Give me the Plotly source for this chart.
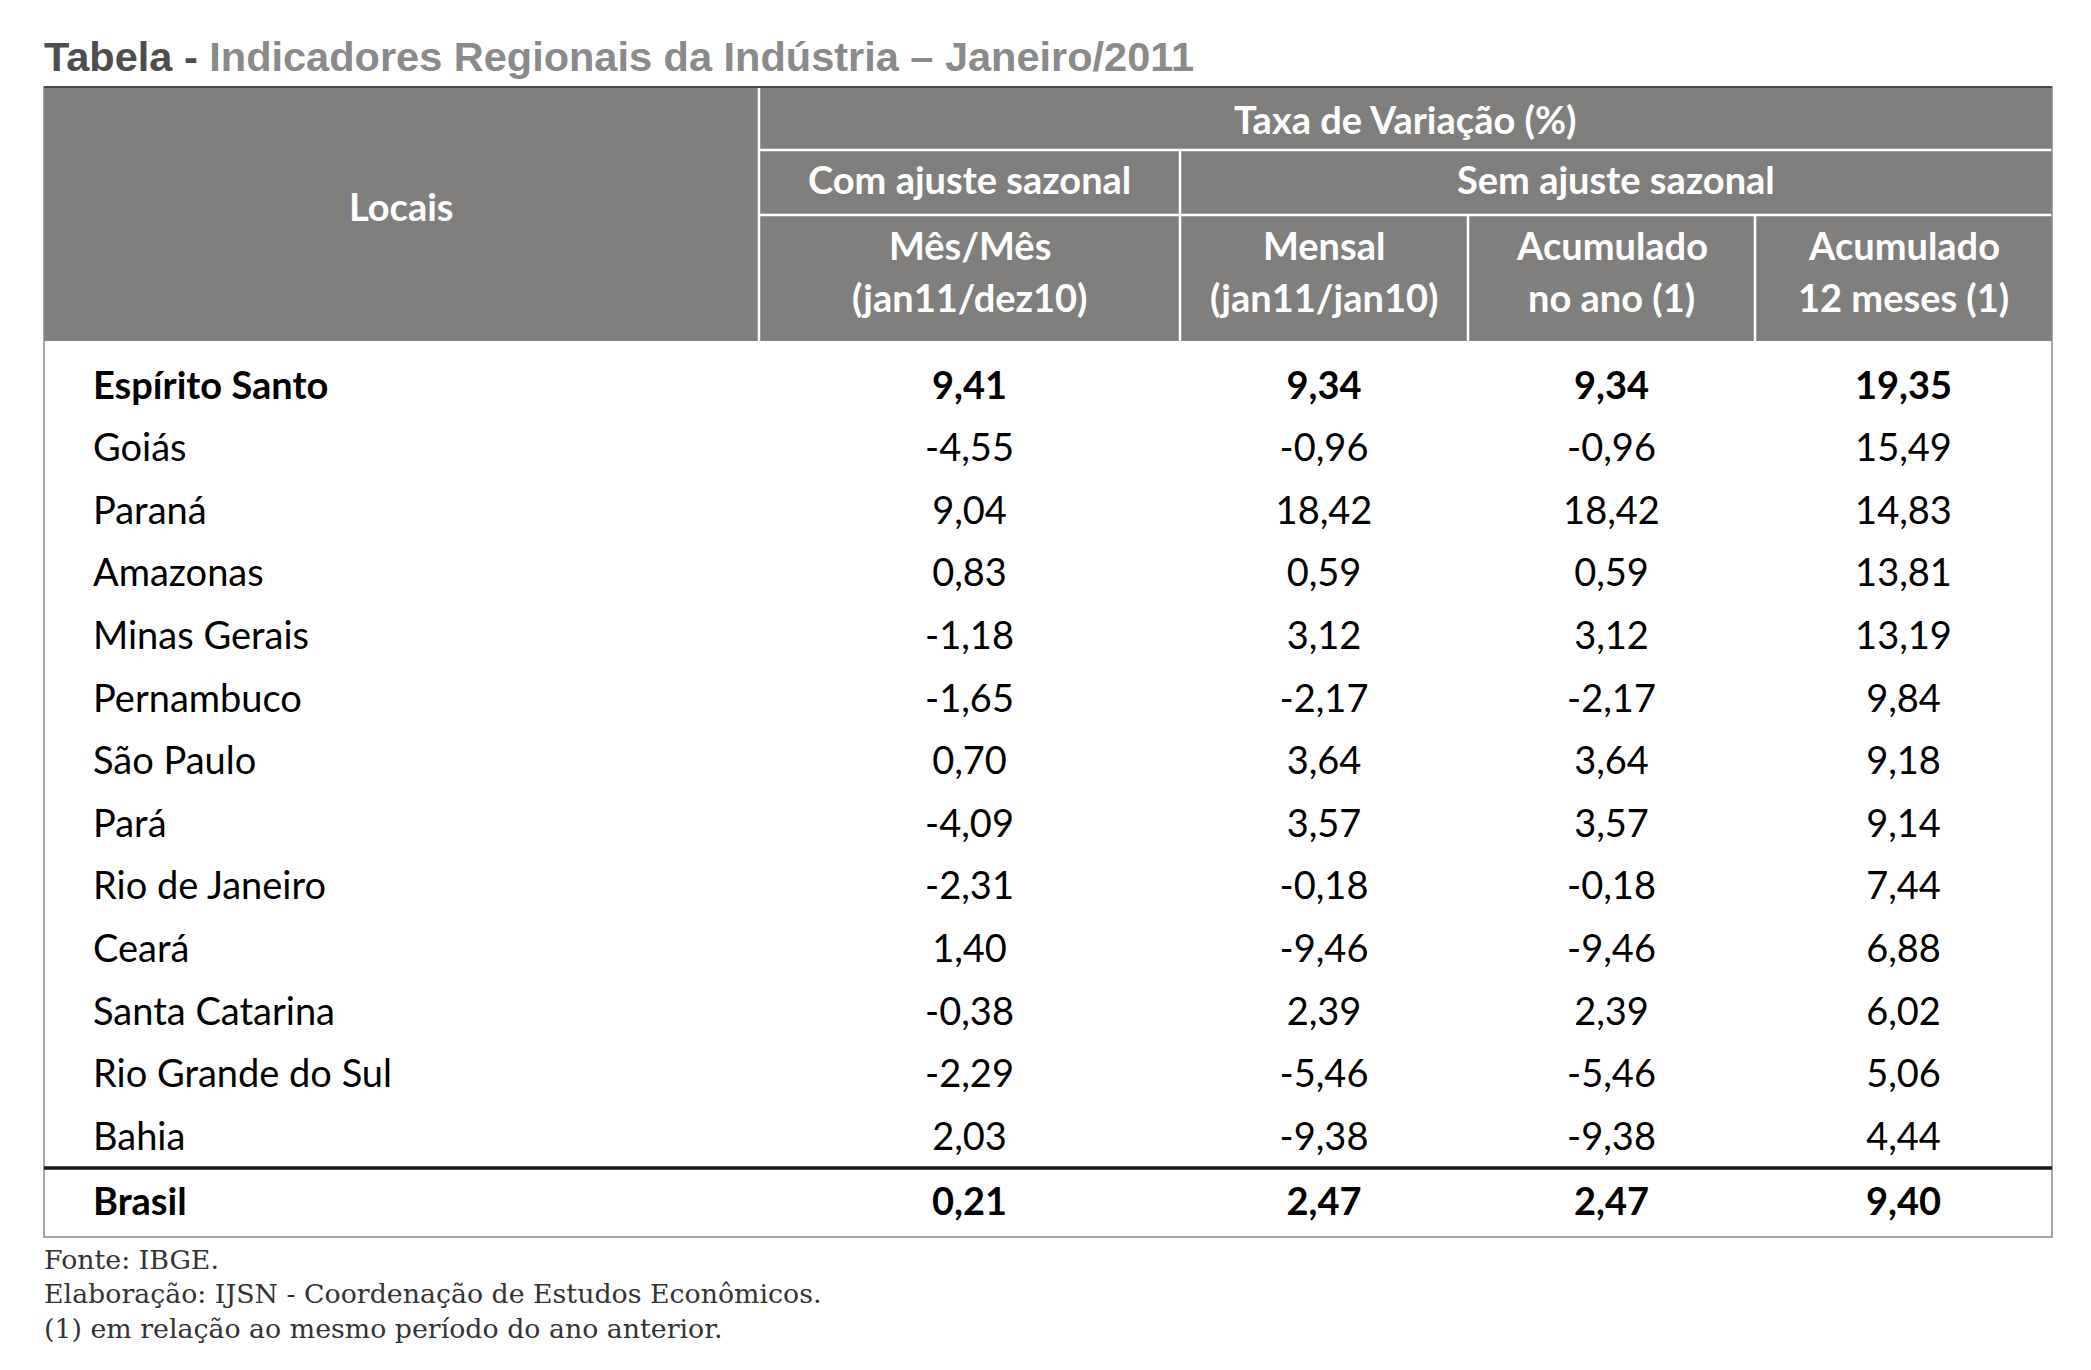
import plotly.graph_objects as go

# ---------------- data ----------------
locais = ["Espírito Santo", "Goiás", "Paraná", "Amazonas", "Minas Gerais", "Pernambuco",
          "São Paulo", "Pará", "Rio de Janeiro", "Ceará", "Santa Catarina",
          "Rio Grande do Sul", "Bahia"]
mes_mes = [9.41, -4.55, 9.04, 0.83, -1.18, -1.65, 0.70, -4.09, -2.31, 1.40, -0.38, -2.29, 2.03]
mensal = [9.34, -0.96, 18.42, 0.59, 3.12, -2.17, 3.64, 3.57, -0.18, -9.46, 2.39, -5.46, -9.38]
acum_ano = [9.34, -0.96, 18.42, 0.59, 3.12, -2.17, 3.64, 3.57, -0.18, -9.46, 2.39, -5.46, -9.38]
acum_12m = [19.35, 15.49, 14.83, 13.81, 13.19, 9.84, 9.18, 9.14, 7.44, 6.88, 6.02, 5.06, 4.44]
total_label = "Brasil"
total_values = [0.21, 2.47, 2.47, 9.40]
bold_rows = ["Espírito Santo"]

title_prefix = "Tabela - "
title_main = "Indicadores Regionais da Indústria – Janeiro/2011"
group_header = "Taxa de Variação (%)"
sub_groups = ["Com ajuste sazonal", "Sem ajuste sazonal"]
col_headers = [["Mês/Mês", "(jan11/dez10)"], ["Mensal", "(jan11/jan10)"],
               ["Acumulado", "no ano (1)"], ["Acumulado", "12 meses (1)"]]
first_header = "Locais"
footnotes = ["Fonte: IBGE.",
             "Elaboração: IJSN - Coordenação de Estudos Econômicos.",
             "(1) em relação ao mesmo período do ano anterior."]

# ---------------- layout constants ----------------
W, H = 2091, 1370
PAGE_MARGIN = 8  # default body margin of the html page
EDGES = [44, 759, 1180, 1468, 1755, 2052]
Y_TOP, Y_H1, Y_H2, Y_HB = 87, 150, 215, 341
ROW0, PITCH = 389, 62.6
Y_TOT_LINE, Y_BOTTOM = 1168, 1237
NAME_X = 93
HEAD_FILL = "#807f7e"
FONT = "Lato"
FS = 38


def fmt(v):
    return f"{v:.2f}".replace(".", ",")


fig = go.Figure()

shapes = []
shapes.append(dict(type="rect", xref="x", yref="y", x0=EDGES[0], x1=EDGES[-1], y0=Y_TOP, y1=Y_HB,
                   fillcolor=HEAD_FILL, line=dict(width=0), layer="below"))
wl = dict(color="white", width=2.5)
shapes.append(dict(type="line", xref="x", yref="y", x0=EDGES[1], x1=EDGES[1], y0=Y_TOP, y1=Y_HB, line=wl))
shapes.append(dict(type="line", xref="x", yref="y", x0=EDGES[1], x1=EDGES[-1], y0=Y_H1, y1=Y_H1, line=wl))
shapes.append(dict(type="line", xref="x", yref="y", x0=EDGES[1], x1=EDGES[-1], y0=Y_H2, y1=Y_H2, line=wl))
shapes.append(dict(type="line", xref="x", yref="y", x0=EDGES[2], x1=EDGES[2], y0=Y_H1, y1=Y_HB, line=wl))
for e in EDGES[3:5]:
    shapes.append(dict(type="line", xref="x", yref="y", x0=e, x1=e, y0=Y_H2, y1=Y_HB, line=wl))
shapes.append(dict(type="rect", xref="x", yref="y", x0=EDGES[0], x1=EDGES[-1], y0=Y_TOP, y1=Y_BOTTOM,
                   fillcolor="rgba(0,0,0,0)", line=dict(color="#8a8a8a", width=1.5)))
shapes.append(dict(type="line", xref="x", yref="y", x0=EDGES[0], x1=EDGES[-1], y0=Y_TOP, y1=Y_TOP,
                   line=dict(color="#4a4a4a", width=2)))
shapes.append(dict(type="line", xref="x", yref="y", x0=EDGES[0], x1=EDGES[-1], y0=Y_TOT_LINE, y1=Y_TOT_LINE,
                   line=dict(color="#1a1a1a", width=3.5)))

hdr_font = dict(family=FONT, size=FS, color="white")
annotations = []


def add_text(x, y, text, font, xanchor="center"):
    annotations.append(dict(x=x, y=y, xref="x", yref="y", text=text, showarrow=False,
                            xanchor=xanchor, yanchor="middle", font=font))


add_text((EDGES[0] + EDGES[1]) / 2, (Y_TOP + Y_HB) / 2 - 8, f"<b>{first_header}</b>", hdr_font)
add_text((EDGES[1] + EDGES[-1]) / 2, (Y_TOP + Y_H1) / 2, f"<b>{group_header}</b>", hdr_font)
add_text((EDGES[1] + EDGES[2]) / 2, (Y_H1 + Y_H2) / 2 - 4, f"<b>{sub_groups[0]}</b>", hdr_font)
add_text((EDGES[2] + EDGES[-1]) / 2, (Y_H1 + Y_H2) / 2 - 4, f"<b>{sub_groups[1]}</b>", hdr_font)
for j, (l1, l2) in enumerate(col_headers):
    cx = (EDGES[j + 1] + EDGES[j + 2]) / 2
    mid = (Y_H2 + Y_HB) / 2
    add_text(cx, mid - 33, f"<b>{l1}</b>", hdr_font)
    add_text(cx, mid + 19, f"<b>{l2}</b>", hdr_font)

row_y = [ROW0 + i * PITCH for i in range(len(locais))]
names_txt = [f"<b>{n}</b>" if n in bold_rows else n for n in locais]
fig.add_trace(go.Scatter(x=[NAME_X] * len(locais), y=row_y, mode="text", text=names_txt,
                         textposition="middle right", textfont=dict(family=FONT, size=FS, color="black"),
                         hoverinfo="skip", showlegend=False))
for j, series in enumerate([mes_mes, mensal, acum_ano, acum_12m]):
    cx = (EDGES[j + 1] + EDGES[j + 2]) / 2
    txt = [f"<b>{fmt(v)}</b>" if locais[i] in bold_rows else fmt(v) for i, v in enumerate(series)]
    fig.add_trace(go.Scatter(x=[cx] * len(series), y=row_y, mode="text", text=txt,
                             textposition="middle center", textfont=dict(family=FONT, size=FS, color="black"),
                             hoverinfo="skip", showlegend=False))

y_tot = (Y_TOT_LINE + Y_BOTTOM) / 2 + 3
fig.add_trace(go.Scatter(x=[NAME_X], y=[y_tot], mode="text", text=[f"<b>{total_label}</b>"],
                         textposition="middle right", textfont=dict(family=FONT, size=FS, color="black"),
                         hoverinfo="skip", showlegend=False))
fig.add_trace(go.Scatter(x=[(EDGES[j + 1] + EDGES[j + 2]) / 2 for j in range(4)], y=[y_tot] * 4,
                         mode="text", text=[f"<b>{fmt(v)}</b>" for v in total_values],
                         textposition="middle center", textfont=dict(family=FONT, size=FS, color="black"),
                         hoverinfo="skip", showlegend=False))

annotations.append(dict(x=EDGES[0] - 2, y=56, xref="x", yref="y", showarrow=False, xanchor="left", yanchor="middle",
                        text=f"<b><span style='color:#4d4d4d'>{title_prefix}</span>{title_main}</b>",
                        font=dict(family="Liberation Sans", size=41.5, color="#8a8a8a")))
for k, line in enumerate(footnotes):
    annotations.append(dict(x=EDGES[0] - 2, y=1259 + k * 34.8, xref="x", yref="y", showarrow=False,
                            xanchor="left", yanchor="middle", text=line,
                            font=dict(family="DejaVu Serif", size=26.8, color="#333333")))

fig.update_layout(
    width=W - 2 * PAGE_MARGIN, height=H - 2 * PAGE_MARGIN, margin=dict(l=0, r=0, t=0, b=0),
    paper_bgcolor="white", plot_bgcolor="white",
    xaxis=dict(range=[PAGE_MARGIN, W - PAGE_MARGIN], visible=False, fixedrange=True),
    yaxis=dict(range=[H - PAGE_MARGIN, PAGE_MARGIN], visible=False, fixedrange=True),
    shapes=shapes, annotations=annotations,
)

fig.write_html("out.html")
